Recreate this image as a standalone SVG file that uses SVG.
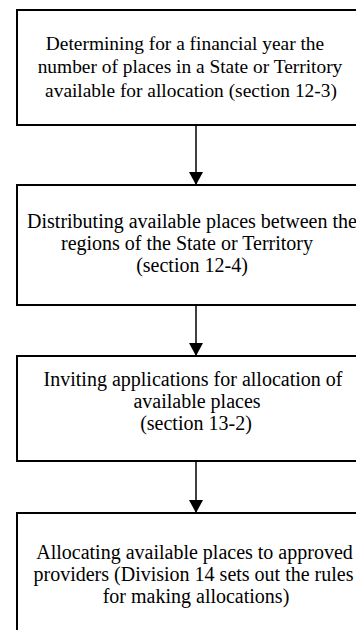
<svg xmlns="http://www.w3.org/2000/svg" width="356" height="630" viewBox="0 0 356 630">
  <style>
    .box { fill: #ffffff; stroke: #000000; stroke-width: 2; }
    .conn { stroke: #000000; stroke-width: 1.5; fill: none; }
    text { font-family: "Liberation Serif", "Times New Roman", serif; font-size: 20px; fill: #000000; text-anchor: middle; }
    .t1 { font-size: 19.4px; }
  </style>
  <defs>
    <marker id="arrow" markerUnits="userSpaceOnUse" markerWidth="13" markerHeight="14" refX="13" refY="7" orient="auto" viewBox="0 0 13 14">
      <path d="M0,0 L13,7 L0,14 z" fill="#000000"/>
    </marker>
  </defs>
  <rect width="356" height="630" fill="#ffffff"/>
  <g id="connectors">
    <line class="conn" x1="196" y1="125" x2="196" y2="185" marker-end="url(#arrow)"/>
    <line class="conn" x1="196" y1="305" x2="196" y2="356" marker-end="url(#arrow)"/>
    <line class="conn" x1="196" y1="461" x2="196" y2="513" marker-end="url(#arrow)"/>
  </g>
  <g id="node1">
    <rect class="box" x="17" y="10" width="350" height="115"/>
    <text class="t1" x="185" y="50">Determining for a financial year the</text>
    <text class="t1" x="190" y="73">number of places in a State or Territory</text>
    <text class="t1" x="191" y="97">available for allocation (section 12-3)</text>
  </g>
  <g id="node2">
    <rect class="box" x="17" y="185" width="350" height="120"/>
    <text x="192" y="228">Distributing available places between the</text>
    <text x="187" y="250">regions of the State or Territory</text>
    <text x="192" y="272">(section 12-4)</text>
  </g>
  <g id="node3">
    <rect class="box" x="17" y="356" width="350" height="105"/>
    <text x="193" y="386">Inviting applications for allocation of</text>
    <text x="197" y="408">available places</text>
    <text x="196" y="430">(section 13-2)</text>
  </g>
  <g id="node4">
    <rect class="box" x="17" y="513" width="350" height="130"/>
    <text x="194.5" y="559">Allocating available places to approved</text>
    <text x="193.5" y="581">providers (Division 14 sets out the rules</text>
    <text x="196" y="603">for making allocations)</text>
  </g>
</svg>
